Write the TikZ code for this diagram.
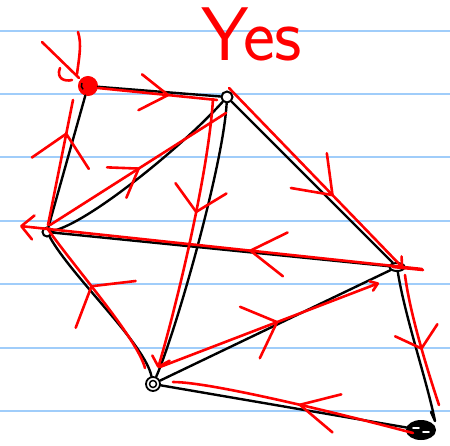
\documentclass[tikz,border=0pt]{standalone}
\usetikzlibrary{arrows.meta,decorations.markings,calc,shapes.geometric}
\definecolor{paperblue}{RGB}{160,205,250}
\begin{document}
\begin{tikzpicture}[x=1pt,y=-1pt,
  paper/.style={line width=1.8pt,paperblue},
  blk/.style={line width=2.4pt,black,line cap=round,line join=round},
  rd/.style={line width=2.6pt,red,line cap=round,line join=round},
  vtx/.style={circle,draw=black,line width=2pt,fill=white,inner sep=0pt},
  chev/.style n args={3}{postaction={decorate},decoration={markings,
     mark=at position #1 with {\arrow{Straight Barb[length=#2,width=#3,round]}}}},
  tipend/.style n args={2}{-{Straight Barb[length=#1,width=#2,round]}}
]
\useasboundingbox (0,0) rectangle (450,445);
\fill[white] (0,0) rectangle (450,445);
\foreach \yy in {31,94,157,221,284,348,411} \draw[paper] (0,\yy) -- (450,\yy);

% vertices
\node[circle,fill=red,draw=red,line width=1pt,minimum size=19pt,inner sep=0pt] (A) at (88,86) {};
\node[vtx,minimum size=11pt] (B) at (227,97) {};
\node[vtx,minimum size=9pt] (C) at (47,232) {};
\node[ellipse,draw=black,line width=2pt,fill=white,minimum width=15pt,minimum height=8pt,inner sep=0pt] (D) at (397,267) {};
\node[vtx,line width=1.8pt,minimum size=14pt] (E) at (153,384) {};
\node[ellipse,draw=black,fill=black,line width=2pt,minimum width=28pt,minimum height=18pt,inner sep=0pt] (F) at (421,430) {};
\draw[black,line width=1.5pt] (E.center) circle[radius=3.5pt];
\draw[white,line width=1.6pt,line cap=round] ($(F.center)+(-8,-2)$) -- ($(F.center)+(-2,-2)$);
\draw[white,line width=1.6pt,line cap=round] ($(F.center)+(2,2)$) -- ($(F.center)+(8,2)$);
\draw[black,line width=1.4pt] ($(A.center)+(-6,-3)$) arc[start angle=150,end angle=230,radius=5pt];

% black edges
\draw[blk] (A) -- (B);
\draw[blk] (A) -- (C);
\draw[blk] (B) .. controls +(-45,50) and +(40,-8) .. (C);
\draw[blk] (B) .. controls +(-4,70) and +(22,-50) .. (E);
\draw[blk] (B) -- (D);
\draw[blk] (C) -- (D);
\draw[blk] (C) .. controls +(25,45) and +(-8,-40) .. (E);
\draw[blk] (E) -- (D);
\draw[blk] (E) -- (F);
\coordinate (Fh) at (435,421);
\draw[blk] (D) .. controls +(8,50) and +(-8,-40) .. (Fh) -- ++(-4,-9);

% red directed edges
\draw[rd,chev={0.6}{28pt}{36pt}] ($(A)+(10,2)$) -- ($(B)+(-10,3)$);
\draw[rd,chev={0.74}{30pt}{58pt}] ($(C)+(1,-7)$) -- ($(A)+(-15,14)$);
\draw[rd,chev={0.51}{26pt}{36pt}] ($(C)+(3,-7)$) -- ($(B)+(-1,16)$);
\draw[rd,chev={0.42}{24pt}{52pt},tipend={9pt}{18pt}] ($(B)+(-14,2)$) .. controls +(-5,80) and +(15,-50) .. ($(E)+(5,-16)$);
\draw[rd,chev={0.6}{34pt}{50pt},tipend={8pt}{14pt}] ($(B)+(2,-9)$) -- ($(D)+(6,1)$);
\draw[rd] ($(D)+(-4,0)$) -- ($(D)+(26,3)$);
\draw[rd,chev={0.43}{35pt}{44pt},tipend={12pt}{24pt}] ($(D)+(25,2)$) -- ($(C)+(-27,-6)$);
\draw[rd,chev={0.54}{29pt}{55pt},tipend={7pt}{10pt}] ($(E)+(7,-17)$) -- ($(D)+(-18,16)$);
\draw[rd,chev={0.57}{19pt}{44pt}] ($(D)+(8,8)$) .. controls +(5,40) and +(-10,-30) .. ($(F)+(18,-25)$);
\draw[rd,chev={0.48}{38pt}{39pt}] ($(F)+(-8,3)$) .. controls +(-60,-16) and +(40,0) .. ($(E)+(20,-2)$);
\draw[rd,chev={0.58}{23pt}{76pt}] ($(E)+(-8,-16)$) .. controls +(-8,-30) and +(28,40) .. ($(C)+(0,-4)$);

% start mark at A
\coordinate (S) at (42,42);
\draw[rd] (S) -- ($(A)+(-9,-8)$);
\draw[rd] ($(A)+(-10,-54)$) .. controls +(4,12) and +(2,-16) .. ($(A)+(-11,-12)$);
\draw[rd] ($(A)+(-28,-18)$) .. controls +(-4,10) and +(-8,2) .. ($(A)+(-16,-6)$);

% text
\node[text=red,anchor=base,inner sep=0pt,font=\fontsize{76}{76}\selectfont\sffamily] (yes) at (252,60) {Yes};
\end{tikzpicture}
\end{document}
